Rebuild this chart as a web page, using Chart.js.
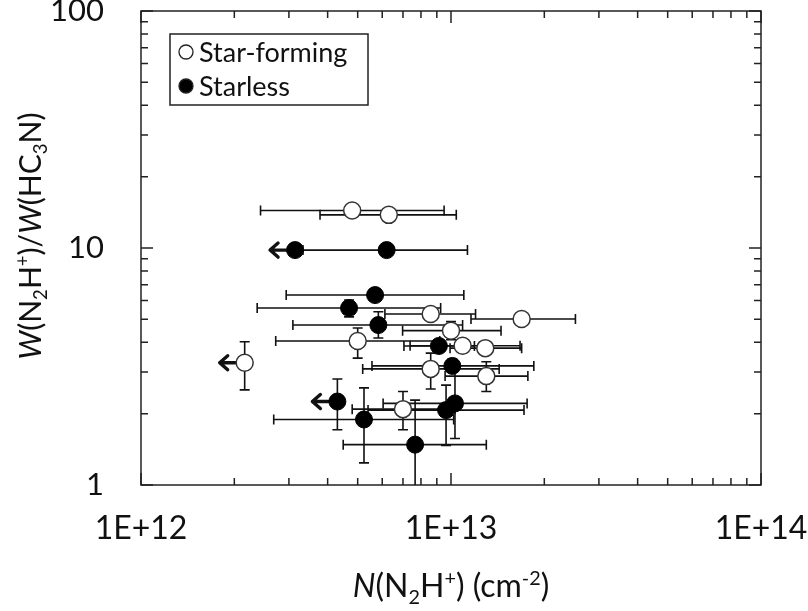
<!DOCTYPE html>
<html>
<head>
<meta charset="utf-8">
<script src="https://cdn.jsdelivr.net/npm/chart.js@4.4.1/dist/chart.umd.min.js"></script>
<style>
  html, body { margin: 0; padding: 0; background: #fff; }
  #wrap { width: 808px; height: 611px; }
</style>
</head>
<body>
<div id="wrap"><canvas id="chartCanvas" width="808" height="611"></canvas></div>
<script>
// tick labels
const xTickLabels = ['1E+12', '1E+13', '1E+14'];
const yTickLabels = ['1', '10', '100'];

// Star-forming (open circles)
const sfX    = [4.8e12, 6.3e12, 8.6e12, 1.69e13, 1.0e13, 5.0e12, 1.09e13, 1.29e13, 8.6e12, 1.3e13, 7.0e12, 2.16e12];
const sfY    = [14.4, 13.8, 5.27, 5.02, 4.48, 4.05, 3.87, 3.78, 3.09, 2.88, 2.09, 3.28];
const sfXLo  = [2.43e12, 3.78e12, 6.12e12, 1.16e13, 6.98e12, 2.72e12, 7.38e12, 9.93e12, 5.19e12, 9.57e12, 4.8e12, null];
const sfXHi  = [9.5e12, 1.04e13, 1.2e13, 2.52e13, 1.45e13, 9.2e12, 1.67e13, 1.69e13, 1.43e13, 1.77e13, 1.03e13, null];
const sfYLo  = [13.5, 13.3, 5.0, 4.8, 4.1, 3.43, 3.65, 3.56, 2.54, 2.48, 1.71, 2.52];
const sfYHi  = [15.3, 14.5, 5.6, 5.25, 4.89, 4.6, 4.1, 4.0, 3.6, 3.31, 2.48, 4.02];
const sfLimit = [false, false, false, false, false, false, false, false, false, false, false, true];

// Starless (filled circles)
const slX    = [3.14e12, 6.2e12, 5.69e12, 4.69e12, 5.83e12, 9.14e12, 1.01e13, 4.3e12, 5.24e12, 7.66e12, 9.64e12, 1.03e13];
const slY    = [9.8, 9.8, 6.33, 5.58, 4.73, 3.86, 3.18, 2.25, 1.89, 1.48, 2.07, 2.21];
const slXLo  = [null, 3.33e12, 2.94e12, 2.37e12, 3.09e12, 7.05e12, 5.56e12, null, 2.68e12, 4.49e12, 5.4e12, 6.04e12];
const slXHi  = [null, 1.13e13, 1.1e13, 9.26e12, 1.09e13, 1.19e13, 1.85e13, null, 1.02e13, 1.3e13, 1.72e13, 1.76e13];
const slYLo  = [9.4, 9.3, 6.0, 5.12, 4.17, 3.65, 3.0, 1.71, 1.24, 0.9, 1.47, 1.57];
const slYHi  = [10.2, 10.3, 6.7, 6.03, 5.38, 4.1, 3.4, 2.8, 2.57, 2.28, 2.64, 3.1];
const slLimit = [true, false, false, false, false, false, false, true, false, false, false, false];

const FONT = 'Lato, "Open Sans", sans-serif';

function makePoints(xs, ys) {
  return xs.map((x, i) => ({ x: x, y: ys[i] }));
}

const errs = [
  { xLo: sfXLo, xHi: sfXHi, yLo: sfYLo, yHi: sfYHi, limit: sfLimit },
  { xLo: slXLo, xHi: slXHi, yLo: slYLo, yHi: slYHi, limit: slLimit }
];

function isDecade(v) {
  const l = Math.log10(v);
  return Math.abs(l - Math.round(l)) < 1e-9;
}

// draw rich text (italic / sub / sup segments), centred on (cx, cy)
function richText(ctx, segs, cx, cy, size) {
  const fontFor = (s) => {
    const sz = (s.sub || s.sup) ? size * 0.62 : size;
    return (s.it ? 'italic ' : '') + sz + 'px ' + FONT;
  };
  let total = 0;
  segs.forEach(s => { ctx.font = fontFor(s); total += ctx.measureText(s.t).width; });
  let x = cx - total / 2;
  ctx.textBaseline = 'alphabetic';
  ctx.textAlign = 'left';
  const base = cy + size * 0.35;
  segs.forEach(s => {
    ctx.font = fontFor(s);
    let y = base;
    if (s.sub) y += size * 0.22;
    if (s.sup) y -= size * 0.38;
    ctx.fillText(s.t, x, y);
    x += ctx.measureText(s.t).width;
  });
}

const decor = {
  id: 'decor',
  beforeDatasetsDraw(chart) {
    const { ctx, chartArea: a, scales: { x, y } } = chart;
    ctx.save();
    ctx.strokeStyle = '#222';
    ctx.lineWidth = 1.5;
    // frame
    ctx.strokeRect(a.left, a.top, a.right - a.left, a.bottom - a.top);
    // ticks on all four sides
    for (let d = 1e12; d < 1e14 * 1.01; d *= 10) {
      for (let m = 1; m <= 9; m++) {
        const v = m * d;
        if (v > 1e14 * 1.001) break;
        const px = x.getPixelForValue(v);
        const len = m === 1 ? 12 : 7;
        ctx.beginPath();
        ctx.moveTo(px, a.bottom); ctx.lineTo(px, a.bottom - len);
        ctx.moveTo(px, a.top); ctx.lineTo(px, a.top + len);
        ctx.stroke();
      }
    }
    for (let d = 1; d < 100 * 1.01; d *= 10) {
      for (let m = 1; m <= 9; m++) {
        const v = m * d;
        if (v > 100 * 1.001) break;
        const py = y.getPixelForValue(v);
        const len = m === 1 ? 12 : 7;
        ctx.beginPath();
        ctx.moveTo(a.left, py); ctx.lineTo(a.left + len, py);
        ctx.moveTo(a.right, py); ctx.lineTo(a.right - len, py);
        ctx.stroke();
      }
    }
    // error bars
    ctx.beginPath();
    ctx.rect(a.left, a.top, a.right - a.left, a.bottom - a.top);
    ctx.clip();
    ctx.strokeStyle = '#111';
    ctx.lineWidth = 1.6;
    const cap = 5;
    chart.data.datasets.forEach((ds, di) => {
      const e = errs[di];
      ds.data.forEach((p, i) => {
        const px = x.getPixelForValue(p.x);
        const py = y.getPixelForValue(p.y);
        ctx.beginPath();
        if (e.xLo[i] != null) {
          const x0 = x.getPixelForValue(e.xLo[i]);
          const x1 = x.getPixelForValue(e.xHi[i]);
          ctx.moveTo(x0, py); ctx.lineTo(x1, py);
          ctx.moveTo(x0, py - cap); ctx.lineTo(x0, py + cap);
          ctx.moveTo(x1, py - cap); ctx.lineTo(x1, py + cap);
        }
        const y0 = y.getPixelForValue(e.yLo[i]);
        const y1 = y.getPixelForValue(e.yHi[i]);
        ctx.moveTo(px, y0); ctx.lineTo(px, y1);
        ctx.moveTo(px - cap, y0); ctx.lineTo(px + cap, y0);
        ctx.moveTo(px - cap, y1); ctx.lineTo(px + cap, y1);
        ctx.stroke();
        if (e.limit[i]) {
          // upper-limit arrow pointing left
          ctx.save();
          ctx.lineWidth = 3.4;
          ctx.lineCap = 'round';
          ctx.lineJoin = 'round';
          const sx = px - 9, tip = px - 25;
          ctx.beginPath();
          ctx.moveTo(sx, py); ctx.lineTo(tip, py);
          ctx.moveTo(tip + 8, py - 7); ctx.lineTo(tip, py); ctx.lineTo(tip + 8, py + 7);
          ctx.stroke();
          ctx.restore();
        }
      });
    });
    ctx.restore();
  },
  afterDraw(chart) {
    const { ctx, chartArea: a } = chart;
    ctx.save();
    ctx.fillStyle = '#111';
    // axis titles
    richText(ctx, [
      { t: 'N', it: true }, { t: '(N' }, { t: '2', sub: true }, { t: 'H' }, { t: '+', sup: true },
      { t: ') (cm' }, { t: '-2', sup: true }, { t: ')' }
    ], (a.left + a.right) / 2, 586, 32);
    ctx.save();
    ctx.translate(30, (a.top + a.bottom) / 2 - 12);
    ctx.rotate(-Math.PI / 2);
    richText(ctx, [
      { t: 'W', it: true }, { t: '(N' }, { t: '2', sub: true }, { t: 'H' }, { t: '+', sup: true },
      { t: ')/' }, { t: 'W', it: true }, { t: '(HC' }, { t: '3', sub: true }, { t: 'N)' }
    ], 0, 0, 30);
    ctx.restore();
    // legend box
    const lx = a.left + 29, ly = a.top + 23, lw = 198, lh = 71;
    ctx.fillStyle = '#fff';
    ctx.fillRect(lx, ly, lw, lh);
    ctx.strokeStyle = '#222';
    ctx.lineWidth = 1.5;
    ctx.strokeRect(lx, ly, lw, lh);
    chart.data.datasets.forEach((ds, di) => {
      const cy = ly + 18 + di * 34;
      ctx.beginPath();
      ctx.arc(lx + 16, cy, 7, 0, Math.PI * 2);
      ctx.fillStyle = ds.backgroundColor;
      ctx.fill();
      ctx.lineWidth = 1.3;
      ctx.strokeStyle = '#222';
      ctx.stroke();
      ctx.fillStyle = '#111';
      ctx.font = '27px ' + FONT;
      ctx.textAlign = 'left';
      ctx.textBaseline = 'middle';
      ctx.fillText(ds.label, lx + 29, cy + 1);
    });
    ctx.restore();
  }
};

const ctx = document.getElementById('chartCanvas').getContext('2d');
new Chart(ctx, {
  type: 'scatter',
  data: {
    datasets: [
      {
        label: 'Star-forming',
        data: makePoints(sfX, sfY),
        backgroundColor: '#fff',
        borderColor: '#333',
        borderWidth: 1.5,
        pointRadius: 8.5,
        pointHoverRadius: 8.5,
        order: 1
      },
      {
        label: 'Starless',
        data: makePoints(slX, slY),
        backgroundColor: '#000',
        borderColor: '#000',
        borderWidth: 1,
        pointRadius: 8.5,
        pointHoverRadius: 8.5,
        order: 2
      }
    ]
  },
  options: {
    responsive: false,
    animation: false,
    layout: { padding: { top: 11, right: 47, left: 0, bottom: 0 } },
    plugins: { legend: { display: false }, tooltip: { enabled: false } },
    scales: {
      x: {
        type: 'logarithmic',
        min: 1e12,
        max: 1e14,
        grid: { display: false },
        border: { display: false },
        afterFit: (s) => { s.height = 126; s.paddingLeft = 0; s.paddingRight = 0; },
        ticks: {
          autoSkip: false,
          maxRotation: 0,
          padding: 16,
          color: '#111',
          font: { family: FONT, size: 32 },
          callback: (v) => isDecade(v) ? xTickLabels[Math.round(Math.log10(v)) - 12] : ''
        }
      },
      y: {
        type: 'logarithmic',
        min: 1,
        max: 100,
        grid: { display: false },
        border: { display: false },
        afterFit: (s) => { s.width = 141; s.paddingTop = 0; s.paddingBottom = 0; },
        ticks: {
          autoSkip: false,
          padding: 29,
          color: '#111',
          font: { family: FONT, size: 31 },
          callback: (v) => isDecade(v) ? yTickLabels[Math.round(Math.log10(v))] : ''
        }
      }
    }
  },
  plugins: [decor]
});
</script>
</body>
</html>
